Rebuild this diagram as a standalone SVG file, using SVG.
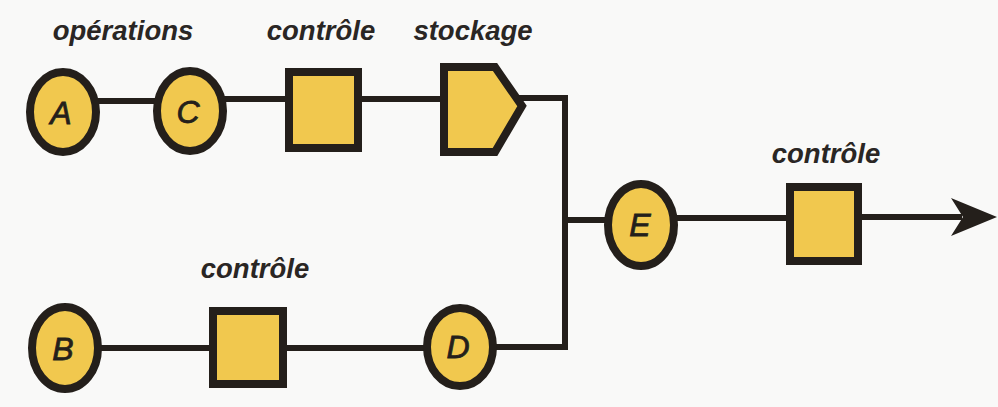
<svg xmlns="http://www.w3.org/2000/svg" width="998" height="407" viewBox="0 0 998 407">
<style>
.bg{fill:#f9f9f8}
.node{fill:#f1c84e;stroke:#241f1b;stroke-width:8}
.wire{fill:none;stroke:#241f1b;stroke-width:6;stroke-linejoin:miter}
.lbl{font-family:"Liberation Sans",Arial,sans-serif;font-weight:bold;font-style:italic;font-size:27.5px;fill:#2a2624;text-anchor:middle}
.let{font-family:"Liberation Sans",Arial,sans-serif;font-style:italic;font-size:32px;fill:#241f1b;stroke:#241f1b;stroke-width:0.8;text-anchor:middle}
</style>
<rect class="bg" x="0" y="0" width="998" height="407"/>
<g id="connectors">
<path class="wire" d="M98 101 H156"/>
<path class="wire" d="M224 99 H289"/>
<path class="wire" d="M358 99 H444"/>
<path class="wire" d="M518 98 H565 V347 H493"/>
<path class="wire" d="M565 220 H609"/>
<path class="wire" d="M674 218 H790"/>
<path class="wire" d="M858 217 H962"/>
<path class="wire" d="M98 348 H213"/>
<path class="wire" d="M283 348 H427"/>
<polygon points="997,217 951,198 963,217 951,236" fill="#241f1b"/>
</g>
<g id="label-operations"><text class="lbl" x="123" y="40">opérations</text></g>
<g id="label-controle-1"><text class="lbl" x="321" y="40">contrôle</text></g>
<g id="label-stockage"><text class="lbl" x="473" y="40">stockage</text></g>
<g id="label-controle-2"><text class="lbl" x="826" y="163">contrôle</text></g>
<g id="label-controle-3"><text class="lbl" x="255" y="278">contrôle</text></g>
<g id="A"><ellipse class="node" cx="63" cy="112" rx="33" ry="40"/><text class="let" x="61" y="124">A</text></g>
<g id="C"><ellipse class="node" cx="190" cy="111" rx="33" ry="40"/><text class="let" x="188" y="123">C</text></g>
<g id="ctrl1"><rect class="node" x="289" y="72" width="69" height="76"/></g>
<g id="stock"><polygon class="node" points="444,67 495,67 522,106 495,152 444,152"/></g>
<g id="E"><ellipse class="node" cx="641" cy="225" rx="33" ry="41"/><text class="let" x="640" y="236">E</text></g>
<g id="ctrl2"><rect class="node" x="790" y="187" width="68" height="74"/></g>
<g id="B"><ellipse class="node" cx="65" cy="348" rx="33" ry="41"/><text class="let" x="63" y="360">B</text></g>
<g id="ctrl3"><rect class="node" x="213" y="311" width="70" height="73"/></g>
<g id="D"><ellipse class="node" cx="460" cy="347" rx="33" ry="39"/><text class="let" x="458" y="358">D</text></g>
</svg>
